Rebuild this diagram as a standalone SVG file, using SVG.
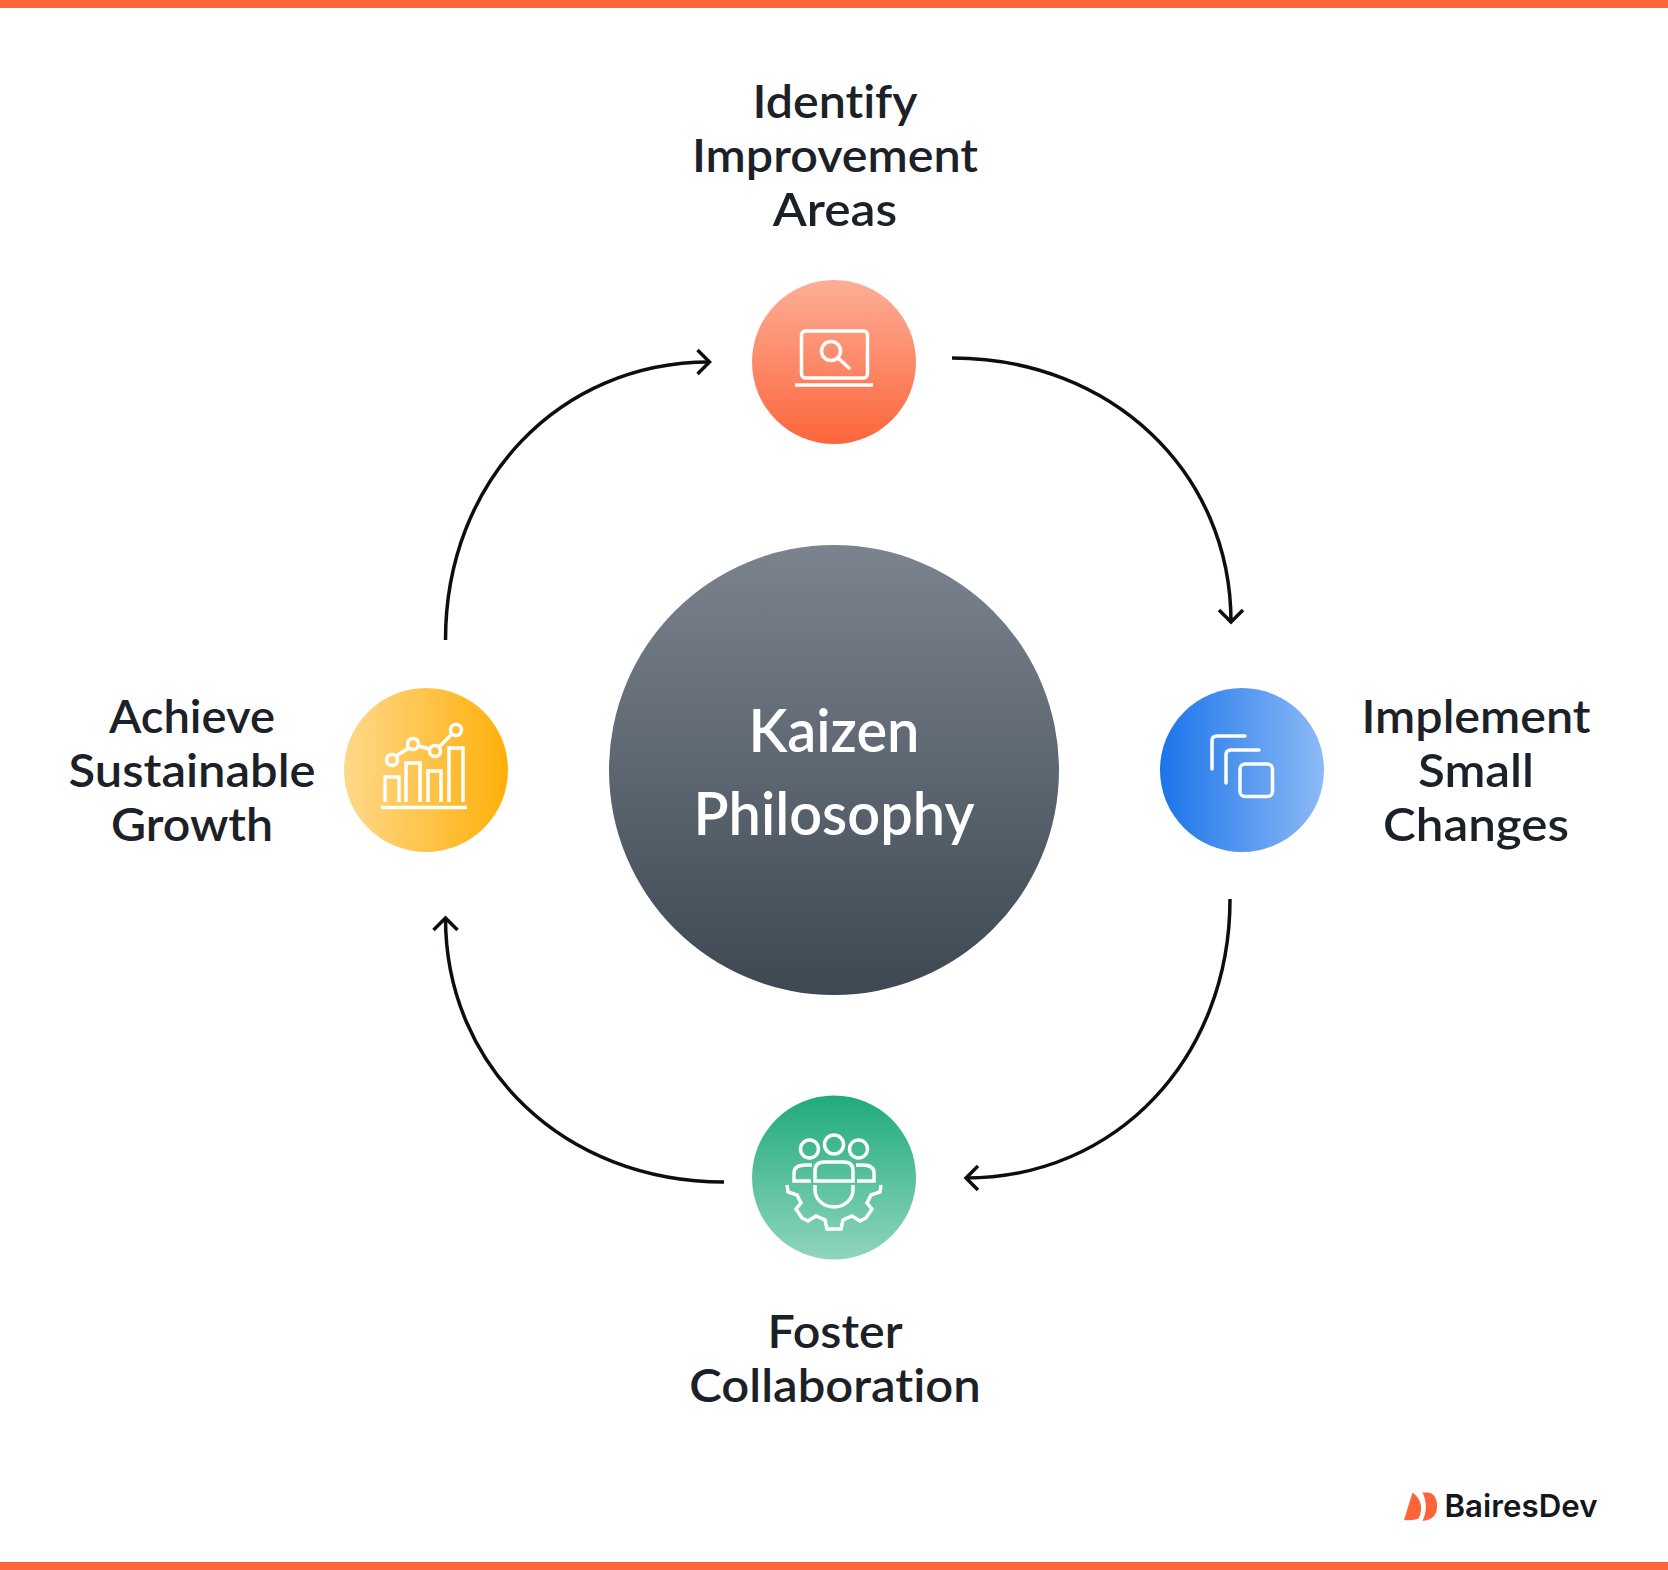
<svg xmlns="http://www.w3.org/2000/svg" width="1668" height="1570" viewBox="0 0 1668 1570">
<defs>
<linearGradient id="gTop" x1="0" y1="0" x2="0" y2="1"><stop offset="0" stop-color="#fdae98"/><stop offset="1" stop-color="#fc653a"/></linearGradient>
<linearGradient id="gGreen" x1="0" y1="0" x2="0" y2="1"><stop offset="0" stop-color="#20ab7c"/><stop offset="1" stop-color="#8fd5bd"/></linearGradient>
<linearGradient id="gYellow" x1="0" y1="0" x2="1" y2="0"><stop offset="0" stop-color="#ffd98a"/><stop offset="1" stop-color="#ffaf0a"/></linearGradient>
<linearGradient id="gBlue" x1="0" y1="0" x2="1" y2="0"><stop offset="0" stop-color="#1b74ea"/><stop offset="1" stop-color="#8cbaf5"/></linearGradient>
<linearGradient id="gCenter" x1="0" y1="0" x2="0" y2="1"><stop offset="0" stop-color="#7b848e"/><stop offset="1" stop-color="#3e4853"/></linearGradient>
<marker id="arrow" markerUnits="userSpaceOnUse" markerWidth="30" markerHeight="30" refX="15" refY="14" orient="auto"><path d="M3 2 L15 14 L3 26" fill="none" stroke="#0c0f12" stroke-width="3.500"/></marker>
</defs>
<style>
.lbl{font-family:"Lato","Noto Sans",sans-serif;font-size:47px;font-weight:600;fill:#1c2127;text-anchor:middle;font-variant-ligatures:none}
.ctr{font-family:"Lato","Noto Sans",sans-serif;font-size:60px;font-weight:600;fill:#fff;text-anchor:middle;font-variant-ligatures:none}
.conn{fill:none;stroke:#0c0f12;stroke-width:3.500;marker-end:url(#arrow)}
.ic{fill:none;stroke:#fff;stroke-width:3.500}
</style>
<rect id="bar-top" x="0" y="0" width="1668" height="8" fill="#fc653a"/>
<rect id="bar-bottom" x="0" y="1562" width="1668" height="8" fill="#fc653a"/>
<g id="connectors">
<path class="conn" d="M952 358 C1111 358 1231 472 1231 622"/>
<path class="conn" d="M1230 899 C1230 1058 1116 1178 966 1178"/>
<path class="conn" d="M724 1182 C565 1182 445.500 1068 445.500 918"/>
<path class="conn" d="M445.500 640 C445.500 481 559.500 362 709.500 362"/>
</g>
<g id="center"><circle cx="834" cy="770" r="225" fill="url(#gCenter)"/>
<text class="ctr" x="834" y="752" textLength="171" lengthAdjust="spacingAndGlyphs">Kaizen</text><text class="ctr" x="834" y="835" textLength="281" lengthAdjust="spacingAndGlyphs">Philosophy</text></g>
<g id="node-identify"><circle cx="834" cy="362" r="82" fill="url(#gTop)"/>
<rect class="ic" x="801.500" y="331" width="66" height="47" rx="4"/><circle class="ic" cx="831" cy="351" r="9.500"/><path class="ic" stroke-linecap="round" d="M838 358 L849 368"/><path class="ic" d="M795 385 H873"/>
<text class="lbl" x="835" y="118" textLength="165" lengthAdjust="spacingAndGlyphs">Identify</text><text class="lbl" x="835" y="172" textLength="286" lengthAdjust="spacingAndGlyphs">Improvement</text><text class="lbl" x="835" y="226" textLength="124.500" lengthAdjust="spacingAndGlyphs">Areas</text></g>
<g id="node-implement"><circle cx="1242" cy="770" r="82" fill="url(#gBlue)"/>
<path class="ic" stroke-linecap="round" d="M1212 769 V741 Q1212 736 1217 736 H1245"/><path class="ic" stroke-linecap="round" d="M1226 783 V755 Q1226 750 1231 750 H1259"/><rect class="ic" x="1240" y="764" width="32.500" height="32.500" rx="5"/>
<text class="lbl" x="1476" y="733" textLength="229" lengthAdjust="spacingAndGlyphs">Implement</text><text class="lbl" x="1476" y="787" textLength="116" lengthAdjust="spacingAndGlyphs">Small</text><text class="lbl" x="1476" y="841" textLength="186" lengthAdjust="spacingAndGlyphs">Changes</text></g>
<g id="node-foster"><circle cx="834" cy="1177.500" r="82" fill="url(#gGreen)"/>
<circle class="ic" cx="809.500" cy="1149" r="9"/><circle class="ic" cx="834" cy="1144.500" r="9.500"/><circle class="ic" cx="858.500" cy="1149" r="9"/>
<path class="ic" d="M811 1181 H794 V1173 Q794 1165 806 1165 H812"/><path class="ic" d="M857 1181 H874 V1173 Q874 1165 862 1165 H856"/><path class="ic" d="M815 1181 V1171 Q815 1162 824 1162 H844 Q853 1162 853 1171 V1181 Z"/>
<path class="ic" d="M815 1185 V1190 A19 17 0 0 0 853 1190 V1185"/>
<path class="ic" d="M787 1185 L788 1192 L797 1195 L801 1203 L796 1209 L802 1218 L808 1221 L816 1216 L825 1220 L827 1229 L841 1229 L843 1220 L852 1216 L860 1221 L866 1218 L872 1209 L867 1203 L871 1195 L880 1192 L881 1185"/>
<text class="lbl" x="835" y="1348" textLength="135" lengthAdjust="spacingAndGlyphs">Foster</text><text class="lbl" x="835" y="1402" textLength="291.500" lengthAdjust="spacingAndGlyphs">Collaboration</text></g>
<g id="node-achieve"><circle cx="426" cy="770" r="82" fill="url(#gYellow)"/>
<path class="ic" d="M385 802 V777 H399 V802 M406 802 V763 H420 V802 M428 802 V771 H441 V802 M449 802 V748 H463 V802"/><path class="ic" d="M381 807.500 H467"/>
<circle class="ic" cx="392" cy="760" r="5.500"/><circle class="ic" cx="413" cy="744" r="5.500"/><circle class="ic" cx="435" cy="751" r="5.500"/><circle class="ic" cx="456" cy="730" r="5.500"/><path class="ic" d="M396 756 L409 748 M418 746 L430 749 M439 747 L452 734"/>
<text class="lbl" x="192" y="733" textLength="166" lengthAdjust="spacingAndGlyphs">Achieve</text><text class="lbl" x="192" y="787" textLength="247" lengthAdjust="spacingAndGlyphs">Sustainable</text><text class="lbl" x="192" y="841" textLength="162" lengthAdjust="spacingAndGlyphs">Growth</text></g>
<g id="logo" fill="#fc653a"><path d="M1412.500 1492.500 L1404 1520 C1410 1520.500 1415 1520 1418.500 1518.500 C1423 1510 1422 1499 1412.500 1492.500 Z"/>
<path d="M1422.500 1492.500 H1428 C1436 1493 1437.500 1503 1437 1507 C1437 1513 1434 1520 1422.500 1521 C1427 1512 1427 1502 1422.500 1492.500 Z"/>
<text x="1444.500" y="1517" font-family="Inter,Liberation Sans,sans-serif" font-size="31" font-weight="600" fill="#14181c" textLength="153" lengthAdjust="spacingAndGlyphs">BairesDev</text></g>
</svg>
